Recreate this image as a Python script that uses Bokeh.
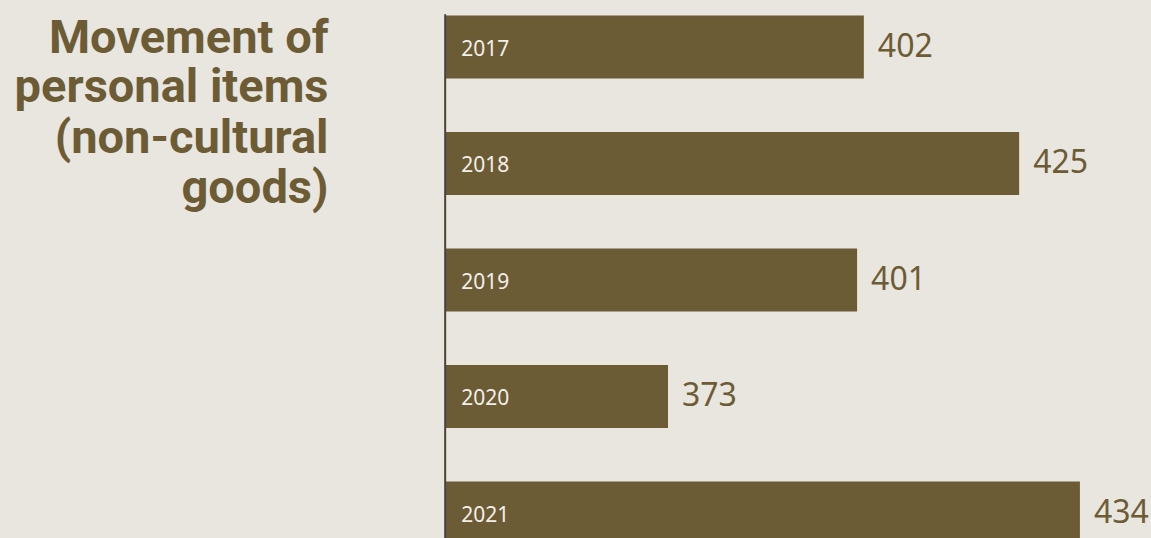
from bokeh.plotting import figure
from bokeh.models import ColumnDataSource, Range1d, Label
from bokeh.core.properties import value
from bokeh.embed import file_html
from bokeh.resources import INLINE

# data
years = ["2017", "2018", "2019", "2020", "2021"]
values = [402, 425, 401, 373, 434]
title_lines = ["Movement of", "personal items", "(non-cultural", "goods)"]
axis_start = 340

BG = "#e9e5df"
BAR = "#6c5c36"

W, H = 1151, 538
pos = list(range(len(years)))
src = ColumnDataSource(dict(
    y=pos, right=values, left=[axis_start] * len(values),
    year=years, label=[str(v) for v in values]))

p = figure(width=W, height=H, output_backend="svg", toolbar_location=None,
           x_range=Range1d(274.15, 444.6), y_range=Range1d(4.219, -0.399),
           min_border=0)
p.background_fill_color = BG
p.border_fill_color = BG
p.outline_line_color = None
p.xaxis.visible = False
p.yaxis.visible = False
p.xgrid.visible = False
p.ygrid.visible = False

p.hbar(y="y", left="left", right="right", height=0.54, source=src,
       fill_color=BAR, line_color=None)

# axis line
p.segment(x0=[axis_start], x1=[axis_start], y0=[-0.28], y1=[4.4],
          line_color="#4b4336", line_width=2)

# year labels inside bars
p.text(x="left", y="y", text="year", source=src, x_offset=16, y_offset=1,
       text_font=value("Noto Sans"), text_font_size="21px",
       text_color="#f3efe8", text_baseline="middle", text_align="left")

# value labels
p.text(x="right", y="y", text="label", source=src, x_offset=14, y_offset=-2,
       text_font=value("Noto Sans"), text_font_size="32px",
       text_color=BAR, text_baseline="middle", text_align="left")

# title
baselines = [36, 85, 136, 186]
for line, b in zip(title_lines, baselines):
    p.add_layout(Label(x=328, y=H - b, x_units="screen", y_units="screen",
                       text=line, text_align="right", text_baseline="alphabetic",
                       text_font="Roboto", text_font_style="bold",
                       text_font_size="47px", text_color=BAR))

html = file_html(p, INLINE)
html = html.replace("<head>", "<head><style>body{background:%s;}</style>" % BG, 1)
open("out.html", "w").write(html)
